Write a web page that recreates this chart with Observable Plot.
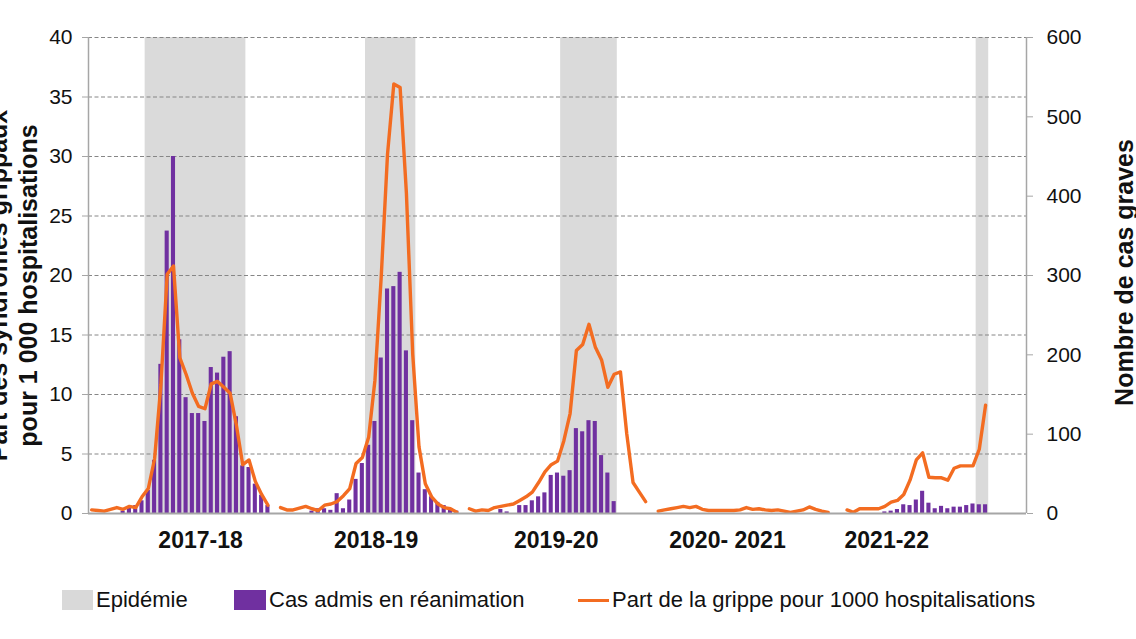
<!DOCTYPE html>
<html>
<head>
<meta charset="utf-8">
<script src="https://cdn.jsdelivr.net/npm/d3@7"></script>
<script src="https://cdn.jsdelivr.net/npm/@observablehq/plot@0.6"></script>
<style>
  html, body { margin: 0; padding: 0; background: #fff; }
  #wrap { position: relative; width: 1136px; height: 639px; overflow: hidden; font-family: "Liberation Sans", Arial, sans-serif; }
  #chart { position: absolute; left: 0; top: 0; }
  .lg { position: absolute; top: 588px; height: 24px; display: flex; align-items: center; font-size: 22px; color: #111; white-space: nowrap; }
  .sw { display: inline-block; margin-right: 3px; }
</style>
</head>
<body>
<div id="wrap">
  <div id="chart"></div>
  <div class="lg" style="left:62px"><span class="sw" style="width:31px;height:20px;background:#d9d9d9"></span>Epidémie</div>
  <div class="lg" style="left:234px"><span class="sw" style="width:32px;height:20px;background:#7030a0"></span>Cas admis en réanimation</div>
  <div class="lg" style="left:578px"><span class="sw" style="width:31px;height:3px;background:#f36c21"></span>Part de la grippe pour 1000 hospitalisations</div>
</div>
<script>
// ---- data ----
const seasons = ["2017-18", "2018-19", "2019-20", "2020- 2021", "2021-22"];
// position of the season label, in weeks from the start of the season
const seasonLabelWeek = [17.3, 15.2, 13.8, 11, 6.3];
// epidemic period (first and last week index within the season)
const epidemicStart = [9, 14, 15, null, 21];
const epidemicEnd = [24, 21, 23, null, 22];

// Part de la grippe pour 1000 hospitalisations (left axis)
const flu1718 = [0.3,0.25,0.2,0.35,0.5,0.35,0.6,0.5,1.4,2.1,4.6,10.8,20.1,20.8,13.1,11.7,10.1,9.0,8.8,10.9,11.1,10.6,10.1,7.4,4.1,4.5,2.7,1.6,0.7];
const flu1819 = [0.5,0.3,0.3,0.45,0.6,0.4,0.25,0.7,0.8,1.0,1.5,2.1,4.2,4.7,6.4,11.2,19.9,30.2,36.1,35.8,26.9,13.4,5.6,2.5,1.4,0.8,0.5,0.4,0.1];
const flu1920 = [0.4,0.2,0.3,0.25,0.5,0.6,0.7,0.8,1.1,1.4,1.8,2.6,3.5,4.1,4.4,6.1,8.4,13.7,14.2,15.9,14.0,12.9,10.6,11.7,11.9,6.7,2.6,1.8,1.0];
const flu2021 = [0.2,0.3,0.4,0.5,0.6,0.5,0.6,0.35,0.25,0.25,0.25,0.25,0.25,0.3,0.5,0.35,0.4,0.3,0.25,0.3,0.2,0.1,0.2,0.3,0.55,0.35,0.2,0.1];
const flu2122 = [0.3,0.1,0.4,0.4,0.4,0.4,0.6,0.95,1.1,1.6,2.8,4.5,5.1,3.05,3.0,3.0,2.8,3.8,4.0,4.0,4.0,5.4,9.1];

// Cas admis en réanimation (right axis, number of severe cases)
const icu1718 = [0,0,0,0,0,3,8,10,16,29,67,188,356,450,219,146,126,126,116,184,177,197,204,122,60,58,37,23,10];
const icu1819 = [0,0,0,0,0,3,6,6,4,25,6,17,43,63,86,116,196,283,286,304,205,117,51,30,21,14,10,6,3];
const icu1920 = [0,0,0,0,0,5,2,0,10,10,16,21,26,48,51,47,54,107,103,117,116,73,51,15,0,0,0,0,0];
const icu2021 = [0,0,0,0,0,0,0,0,0,0,0,0,0,0,0,0,0,0,0,0,0,0,0,0,0,0,0,0];
const icu2122 = [0,0,0,0,0,0,2,3,5,11,10,17,28,13,6,9,6,8,8,10,12,11,11];

const leftTicks = [0,5,10,15,20,25,30,35,40];
const rightTicks = [0,100,200,300,400,500,600];
const leftTitle1 = "Part des syndromes grippaux";
const leftTitle2 = "pour 1 000 hospitalisations";
const rightTitle = "Nombre de cas graves";

// ---- build table ----
const weeksPerSeason = 30;
const ratio = 600 / 40; // right axis units per left axis unit
const fluSeries = [flu1718, flu1819, flu1920, flu2021, flu2122];
const icuSeries = [icu1718, icu1819, icu1920, icu2021, icu2122];
const rows = [];
fluSeries.forEach((s, k) => s.forEach((v, i) => rows.push({season: k, slot: k * weeksPerSeason + i, flu: v, icu: icuSeries[k][i]})));
const epidemics = seasons.map((s, k) => ({season: k, start: epidemicStart[k], end: epidemicEnd[k]}))
  .filter(d => d.start != null)
  .map(d => ({x1: d.season * weeksPerSeason + d.start - 0.5, x2: d.season * weeksPerSeason + d.end + 0.5}));
const labels = seasons.map((s, k) => ({label: s, x: k * weeksPerSeason + seasonLabelWeek[k]}));
const xDomain = [-0.5, 148.5];

const chart = Plot.plot({
  width: 1136,
  height: 575,
  marginLeft: 88,
  marginRight: 110,
  marginTop: 37,
  marginBottom: 62,
  style: {fontFamily: '"Liberation Sans", Arial, sans-serif', fontSize: "21px", color: "#111", background: "white", overflow: "visible"},
  x: {domain: xDomain, axis: null},
  y: {domain: [0, 40], axis: null},
  marks: [
    Plot.rect(epidemics, {x1: "x1", x2: "x2", y1: leftTicks[0], y2: leftTicks[leftTicks.length - 1], fill: "#dadada"}),
    Plot.ruleY(leftTicks.slice(1), {stroke: "#868686", strokeWidth: 1, strokeDasharray: "4,2.5"}),
    Plot.rectY(rows.filter(d => d.icu > 0), {x1: d => d.slot - 0.5, x2: d => d.slot + 0.5, y: d => d.icu / ratio, insetLeft: 1.1, insetRight: 1.1, fill: "#7030a0"}),
    Plot.line(rows, {x: "slot", y: "flu", z: "season", stroke: "#f36c21", strokeWidth: 3.4, strokeLinejoin: "round", strokeLinecap: "round"}),
    Plot.ruleY([0], {stroke: "#a6a6a6", strokeWidth: 2}),
    Plot.ruleX(xDomain, {stroke: "#a6a6a6", strokeWidth: 1.5}),
    Plot.axisY(leftTicks, {anchor: "left", tickSize: 6, tickPadding: 10, stroke: "#a6a6a6", fill: "#111", fontSize: 21, label: null}),
    Plot.axisY(rightTicks.map(v => v / ratio), {anchor: "right", tickSize: 6, tickPadding: 14, stroke: "#a6a6a6", fill: "#111", fontSize: 21, label: null, tickFormat: v => String(Math.round(v * ratio))}),
    Plot.text(labels, {x: "x", text: "label", frameAnchor: "bottom", dy: 34, fontWeight: "bold", fontSize: 23, fill: "#111"}),
    Plot.text([leftTitle1], {text: d => d, frameAnchor: "left", textAnchor: "middle", rotate: -90, dx: -90, dy: 10, lineAnchor: "middle", fontWeight: "bold", fontSize: 25, fill: "#111"}),
    Plot.text([leftTitle2], {text: d => d, frameAnchor: "left", textAnchor: "middle", rotate: -90, dx: -60, dy: 10, lineAnchor: "middle", fontWeight: "bold", fontSize: 25, fill: "#111"}),
    Plot.text([rightTitle], {text: d => d, frameAnchor: "right", textAnchor: "middle", rotate: -90, dx: 98, dy: -3, lineAnchor: "middle", fontWeight: "bold", fontSize: 25, fill: "#111"})
  ]
});
document.getElementById("chart").appendChild(chart);
</script>
</body>
</html>
